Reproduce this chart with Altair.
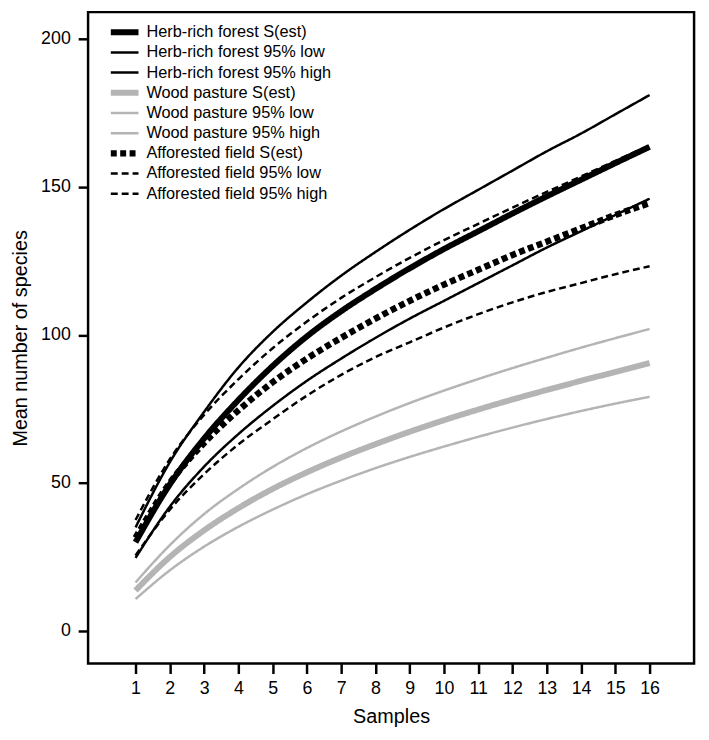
import altair as alt
import pandas as pd

samples = list(range(1, 17))

herb_s    = [30.0, 49.5, 65.0, 78.0, 89.5, 99.5, 108.0, 115.5, 122.5, 129.0, 135.0, 141.0, 146.8, 152.4, 158.0, 163.5]
herb_low  = [24.7, 42.0, 55.5, 66.5, 76.0, 84.5, 92.0, 99.0, 105.5, 111.5, 117.5, 123.5, 129.5, 135.0, 140.5, 146.0]
herb_high = [35.0, 57.0, 74.0, 89.0, 101.0, 111.0, 120.0, 128.0, 135.5, 142.5, 149.0, 155.5, 162.0, 168.0, 174.5, 181.0]
wood_s    = [13.7, 25.0, 34.0, 41.5, 48.0, 53.6, 58.6, 63.1, 67.3, 71.2, 74.8, 78.2, 81.4, 84.5, 87.5, 90.5]
wood_low  = [10.8, 20.5, 28.5, 35.2, 41.0, 46.2, 50.8, 55.0, 58.8, 62.3, 65.6, 68.7, 71.6, 74.3, 76.8, 79.1]
wood_high = [16.4, 29.0, 39.5, 48.0, 55.4, 61.8, 67.4, 72.4, 77.0, 81.2, 85.1, 88.8, 92.3, 95.7, 98.9, 102.0]
aff_s     = [31.5, 50.0, 63.5, 74.5, 84.0, 92.0, 99.0, 105.5, 111.5, 117.0, 122.0, 127.0, 131.5, 136.0, 140.5, 144.5]
aff_low   = [25.5, 41.0, 53.0, 63.0, 71.5, 79.5, 86.5, 92.5, 97.5, 102.5, 107.0, 111.0, 114.5, 117.5, 120.5, 123.2]
aff_high  = [37.5, 58.0, 73.0, 85.0, 95.5, 104.5, 112.5, 119.5, 126.0, 132.0, 137.5, 143.0, 148.3, 153.5, 158.8, 164.0]

names = [
    "Herb-rich forest S(est)", "Herb-rich forest 95% low", "Herb-rich forest 95% high",
    "Wood pasture S(est)", "Wood pasture 95% low", "Wood pasture 95% high",
    "Afforested field S(est)", "Afforested field 95% low", "Afforested field 95% high",
]
series = [herb_s, herb_low, herb_high, wood_s, wood_low, wood_high, aff_s, aff_low, aff_high]

colors = ["#000000"] * 3 + ["#b4b4b4"] * 3 + ["#000000"] * 3
widths = [6, 2.5, 2.5, 6, 2.5, 2.5, 6.5, 2.5, 2.5]
dashes = [[1, 0]] * 6 + [[6, 3.5], [7, 4], [7, 4]]

rows = []
for n, w, vals in zip(names, widths, series):
    for s, v in zip(samples, vals):
        rows.append({"series": n, "w": w, "samples": s, "value": v})
df = pd.DataFrame(rows)

leg_df = pd.DataFrame({"series": names, "w": widths, "idx": list(range(len(names)))})

FONT = "Liberation Sans"

color_enc = alt.Color("series:N", sort=names, scale=alt.Scale(domain=names, range=colors), legend=None)
dash_enc = alt.StrokeDash("series:N", sort=names, scale=alt.Scale(domain=names, range=dashes), legend=None)
width_enc = alt.StrokeWidth("w:Q", scale=None, legend=None)

lines = alt.Chart(df).mark_line(interpolate="monotone").encode(
    x=alt.X("samples:Q", title="Samples",
            scale=alt.Scale(domain=[-0.385, 17.298], nice=False, zero=False),
            axis=alt.Axis(values=samples, format="d", grid=False, domain=False,
                          tickSize=10, tickWidth=2.5, tickColor="black",
                          labelFontSize=18, labelPadding=6, labelColor="black", labelFont=FONT,
                          titleFontSize=20, titleFont=FONT, titleFontWeight="normal",
                          titleColor="black", titlePadding=10)),
    y=alt.Y("value:Q", title="Mean number of species",
            scale=alt.Scale(domain=[-11.0, 209.0], nice=False, zero=False),
            axis=alt.Axis(values=[0, 50, 100, 150, 200], grid=False, domain=False,
                          tickSize=10, tickWidth=2.5, tickColor="black",
                          labelFontSize=18, labelPadding=8, labelColor="black", labelFont=FONT,
                          titleFontSize=20, titleFont=FONT, titleFontWeight="normal",
                          titleColor="black", titlePadding=10)),
    color=color_enc,
    strokeDash=dash_enc,
    strokeWidth=width_enc,
)

leg_y = alt.Y("idx:Q", scale=alt.Scale(domain=[0, 8], range=[20.3, 183.7]), axis=None)

leg_sym = alt.Chart(leg_df).mark_rule(strokeCap="butt").encode(
    x=alt.value(23), x2=alt.value(51),
    y=leg_y,
    color=color_enc,
    strokeDash=dash_enc,
    strokeWidth=width_enc,
)

leg_txt = alt.Chart(leg_df).mark_text(align="left", baseline="middle", font=FONT,
                                      fontSize=16.5, color="black").encode(
    x=alt.value(59),
    y=leg_y,
    text="series:N",
)

legend = alt.layer(leg_sym, leg_txt)

chart = alt.layer(lines, legend).resolve_scale(y="independent").properties(
    width=613, height=659,
    padding={"left": 81, "top": 0, "right": 7, "bottom": 65},
    autosize=alt.AutoSizeParams(type="none"),
    background="white",
).configure_view(
    stroke="black", strokeWidth=2.5
)

chart.save("out.html", embed_options={"renderer": "svg", "actions": False})
